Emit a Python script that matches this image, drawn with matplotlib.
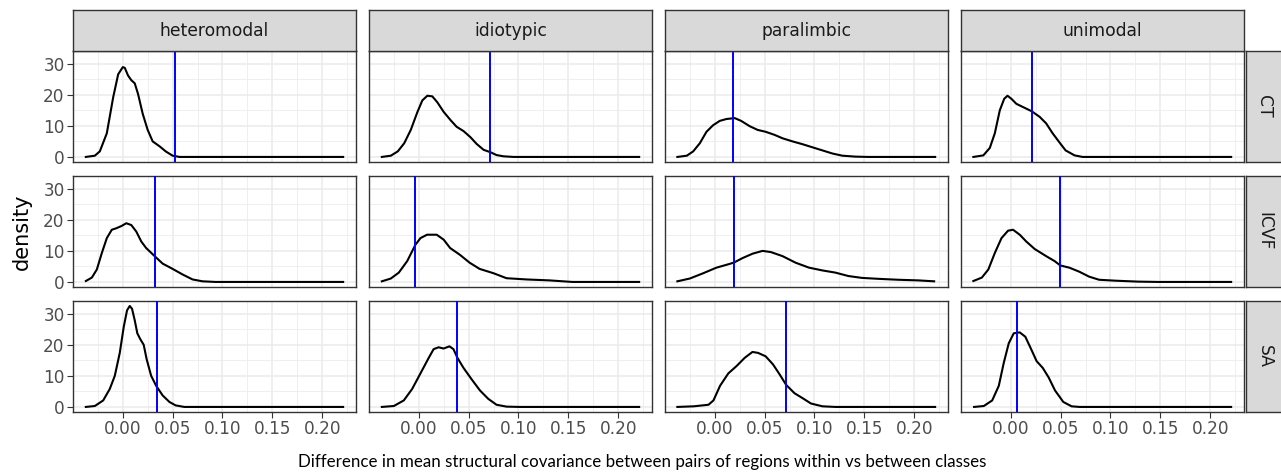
import matplotlib
matplotlib.use("Agg")
import matplotlib.pyplot as plt
from matplotlib.ticker import MultipleLocator

# facet labels
classes = ["heteromodal", "idiotypic", "paralimbic", "unimodal"]
measures = ["CT", "ICVF", "SA"]

# density curves: (x values, density values)
ct_hetero_x = [-0.037, -0.028, -0.023, -0.016, -0.0096, -0.0046, 0.0, 0.002, 0.0053, 0.0086, 0.012, 0.0153, 0.020, 0.025, 0.030, 0.037, 0.043, 0.050, 0.057, 0.221]
ct_hetero_y = [0.0, 0.4, 1.8, 7.6, 19.2, 26.6, 28.9, 28.7, 26.2, 24.7, 23.7, 20.3, 13.9, 8.7, 5.0, 3.4, 1.8, 0.4, 0.0, 0.0]
ct_idio_x = [-0.037, -0.028, -0.021, -0.0146, -0.008, -0.0013, 0.0036, 0.0086, 0.0136, 0.0186, 0.025, 0.032, 0.038, 0.045, 0.052, 0.058, 0.065, 0.072, 0.078, 0.085, 0.095, 0.221]
ct_idio_y = [0.0, 0.4, 1.8, 4.4, 8.7, 14.5, 18.2, 19.7, 19.5, 17.6, 14.5, 11.8, 9.7, 8.3, 6.3, 4.2, 2.3, 1.5, 0.6, 0.2, 0.0, 0.0]
ct_para_x = [-0.0375, -0.028, -0.0216, -0.015, -0.0083, -0.0017, 0.005, 0.0116, 0.020, 0.0265, 0.035, 0.043, 0.051, 0.060, 0.068, 0.078, 0.088, 0.098, 0.108, 0.118, 0.128, 0.141, 0.154, 0.221]
ct_para_y = [0.0, 0.4, 1.8, 4.4, 8.1, 10.2, 11.6, 12.2, 12.5, 11.6, 9.9, 8.7, 8.1, 7.1, 6.0, 5.0, 4.1, 3.1, 2.1, 1.1, 0.4, 0.1, 0.0, 0.0]
ct_uni_x = [-0.0375, -0.0275, -0.021, -0.016, -0.011, -0.0066, -0.0033, 0.0007, 0.0056, 0.012, 0.021, 0.029, 0.0355, 0.042, 0.049, 0.055, 0.064, 0.072, 0.221]
ct_uni_y = [0.0, 0.5, 2.9, 7.6, 15.0, 18.7, 19.7, 18.7, 17.1, 16.1, 14.7, 12.9, 10.8, 7.6, 4.6, 2.1, 0.5, 0.0, 0.0]

icvf_hetero_x = [-0.037, -0.031, -0.026, -0.021, -0.016, -0.011, -0.0063, -0.0013, 0.0036, 0.0086, 0.0136, 0.0186, 0.0235, 0.032, 0.040, 0.050, 0.060, 0.070, 0.080, 0.093, 0.221]
icvf_hetero_y = [0.3, 1.4, 4.0, 9.3, 14.1, 16.8, 17.3, 18.0, 18.9, 18.3, 16.2, 13.0, 10.9, 8.3, 5.9, 4.2, 2.4, 0.8, 0.2, 0.0, 0.0]
icvf_idio_x = [-0.037, -0.028, -0.020, -0.0116, -0.0033, 0.0017, 0.0083, 0.018, 0.025, 0.0315, 0.041, 0.051, 0.061, 0.075, 0.088, 0.108, 0.131, 0.154, 0.221]
icvf_idio_y = [0.2, 1.1, 3.0, 6.7, 12.0, 14.1, 15.2, 15.2, 13.6, 10.9, 8.8, 6.2, 4.2, 2.8, 1.2, 0.8, 0.5, 0.0, 0.0]
icvf_para_x = [-0.0375, -0.025, -0.0116, 0.0017, 0.0116, 0.019, 0.028, 0.038, 0.048, 0.0564, 0.068, 0.081, 0.0945, 0.108, 0.121, 0.134, 0.1476, 0.164, 0.184, 0.204, 0.220]
icvf_para_y = [0.2, 1.1, 2.8, 4.6, 5.5, 6.2, 7.7, 9.1, 10.0, 9.6, 8.3, 6.2, 4.6, 3.7, 3.0, 1.9, 1.3, 1.0, 0.7, 0.5, 0.2]
icvf_uni_x = [-0.0375, -0.029, -0.0225, -0.016, -0.0093, -0.0027, 0.0023, 0.009, 0.0156, 0.024, 0.0355, 0.044, 0.0497, 0.0587, 0.0687, 0.0786, 0.0886, 0.105, 0.128, 0.148, 0.221]
icvf_uni_y = [0.3, 1.4, 4.0, 9.3, 14.1, 16.5, 16.8, 15.2, 13.0, 10.6, 8.3, 6.7, 5.3, 4.6, 3.3, 1.7, 0.7, 0.4, 0.1, 0.0, 0.0]

sa_hetero_x = [-0.037, -0.028, -0.0196, -0.013, -0.008, -0.003, 0.001, 0.0043, 0.007, 0.0093, 0.012, 0.0146, 0.0176, 0.021, 0.024, 0.0285, 0.0335, 0.040, 0.0468, 0.053, 0.0617, 0.221]
sa_hetero_y = [0.0, 0.3, 2.1, 5.8, 10.0, 17.4, 25.8, 31.1, 32.5, 31.6, 27.9, 23.7, 21.8, 20.0, 15.3, 10.0, 6.8, 3.7, 1.6, 0.5, 0.0, 0.0]
sa_idio_x = [-0.037, -0.025, -0.015, -0.0066, 0.0017, 0.010, 0.0149, 0.0199, 0.0249, 0.0308, 0.0348, 0.0388, 0.0448, 0.053, 0.0614, 0.0697, 0.078, 0.088, 0.101, 0.221]
sa_idio_y = [0.0, 0.3, 2.1, 5.8, 10.8, 15.8, 18.6, 19.2, 18.8, 19.5, 18.6, 15.8, 12.6, 8.9, 5.3, 2.6, 0.7, 0.1, 0.0, 0.0]
sa_para_x = [-0.0375, -0.021, -0.0063, -0.0013, 0.0053, 0.0136, 0.022, 0.030, 0.0378, 0.0434, 0.051, 0.0584, 0.065, 0.0716, 0.080, 0.0882, 0.0965, 0.108, 0.121, 0.221]
sa_para_y = [0.0, 0.2, 0.7, 2.1, 6.8, 10.8, 13.2, 15.8, 17.7, 17.4, 16.3, 13.7, 10.5, 7.1, 4.4, 2.8, 1.1, 0.2, 0.0, 0.0]
sa_uni_x = [-0.0368, -0.027, -0.0186, -0.012, -0.007, -0.002, 0.003, 0.009, 0.0146, 0.020, 0.026, 0.032, 0.038, 0.0444, 0.0527, 0.061, 0.069, 0.221]
sa_uni_y = [0.0, 0.3, 2.1, 6.8, 14.2, 20.5, 23.7, 24.0, 22.6, 18.9, 14.7, 12.6, 9.5, 5.3, 1.6, 0.2, 0.0, 0.0]

curves = [
    [(ct_hetero_x, ct_hetero_y), (ct_idio_x, ct_idio_y), (ct_para_x, ct_para_y), (ct_uni_x, ct_uni_y)],
    [(icvf_hetero_x, icvf_hetero_y), (icvf_idio_x, icvf_idio_y), (icvf_para_x, icvf_para_y), (icvf_uni_x, icvf_uni_y)],
    [(sa_hetero_x, sa_hetero_y), (sa_idio_x, sa_idio_y), (sa_para_x, sa_para_y), (sa_uni_x, sa_uni_y)],
]

# observed values (blue lines)
observed = [
    [0.0524, 0.0713, 0.018, 0.0212],
    [0.032, -0.0033, 0.019, 0.0497],
    [0.0345, 0.0388, 0.0716, 0.0063],
]

xticks = [0.00, 0.05, 0.10, 0.15, 0.20]
yticks = [0, 10, 20, 30]

W, H = 1281, 472
fig = plt.figure(figsize=(W / 100, H / 100), dpi=100)
plt.rcParams['font.family'] = ['DejaVu Sans']

col_left = [73, 369, 665, 961]
row_top = [51, 176, 301]
pw, ph = 283, 111
border = '#333333'

for r in range(3):
    for c in range(4):
        ax = fig.add_axes([col_left[c] / W, 1 - (row_top[r] + ph) / H, pw / W, ph / H])
        xs, ys = curves[r][c]
        ax.plot(xs, ys, color='black', lw=1.5, solid_joinstyle='round', zorder=3)
        ax.axvline(observed[r][c], color='blue', lw=1.4, zorder=4)
        ax.set_xlim(-0.0499, 0.2339)
        ax.set_ylim(-1.63, 34.1)
        ax.set_xticks(xticks)
        ax.set_yticks(yticks)
        ax.xaxis.set_minor_locator(MultipleLocator(0.025))
        ax.yaxis.set_minor_locator(MultipleLocator(5))
        ax.grid(which='major', color='#EBEBEB', lw=1.1, zorder=0)
        ax.grid(which='minor', color='#EBEBEB', lw=0.55, zorder=0)
        ax.set_axisbelow(True)
        for s in ax.spines.values():
            s.set_color(border)
            s.set_linewidth(1.0)
        ax.tick_params(which='minor', length=0)
        ax.tick_params(which='major', length=4, width=0.8, color=border,
                       labelcolor='#4D4D4D', labelsize=12.2, pad=2)
        if r == 2:
            ax.set_xticklabels(['%.2f' % t for t in xticks])
        else:
            ax.tick_params(axis='x', length=0, labelbottom=False)
        if c == 0:
            ax.set_yticklabels([str(t) for t in yticks])
        else:
            ax.tick_params(axis='y', length=0, labelleft=False)

        if r == 0:
            sx = fig.add_axes([col_left[c] / W, 1 - row_top[r] / H, pw / W, 41 / H])
            sx.set_facecolor('#D9D9D9')
            sx.set_xticks([])
            sx.set_yticks([])
            for s in sx.spines.values():
                s.set_color(border)
                s.set_linewidth(1.0)
            sx.text(0.5, 0.5, classes[c], ha='center', va='center',
                    fontsize=12.3, color='#1A1A1A', transform=sx.transAxes)
        if c == 3:
            sy = fig.add_axes([1246 / W, 1 - (row_top[r] + ph) / H, 41 / W, ph / H])
            sy.set_facecolor('#D9D9D9')
            sy.set_xticks([])
            sy.set_yticks([])
            for s in sy.spines.values():
                s.set_color(border)
                s.set_linewidth(1.0)
            sy.text(0.45, 0.5, measures[r], ha='center', va='center', rotation=-90,
                    fontsize=12.3, color='#1A1A1A', transform=sy.transAxes)

fig.text(22 / W, 1 - 232 / H, 'density', rotation=90, ha='center', va='center',
         fontsize=15, color='black')
fig.text(642 / W, 1 - 462 / H,
         'Difference in mean structural covariance between pairs of regions within vs between classes',
         ha='center', va='center', fontsize=12.2, color='black', family=['Lato', 'DejaVu Sans'])

fig.savefig('out.png', dpi=100)
